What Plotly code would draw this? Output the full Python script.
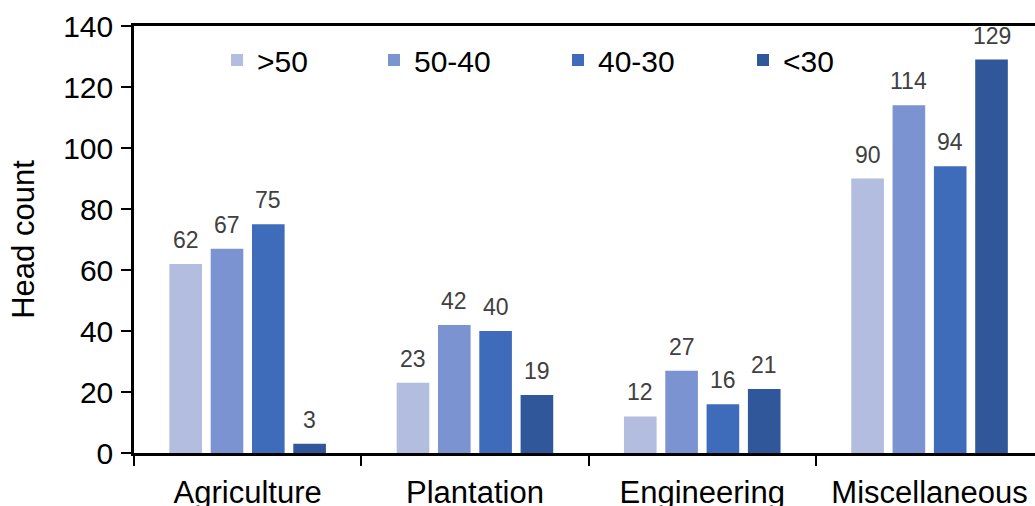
import plotly.graph_objects as go

# Head count by sector and age band
categories = ["Agriculture", "Plantation", "Engineering", "Miscellaneous"]
age_bands = [">50", "50-40", "40-30", "<30"]
over_50 = [62, 23, 12, 90]
age_50_40 = [67, 42, 27, 114]
age_40_30 = [75, 40, 16, 94]
under_30 = [3, 19, 21, 129]
series = [over_50, age_50_40, age_40_30, under_30]
colors = ["#B3BDDF", "#7C93D1", "#3F6BBB", "#30579A"]

FONT = "Liberation Sans, Arial, sans-serif"
BARGAP = 0.273
GROUPGAP = 0.21

# legend item positions (container pixels, left edge of each item)
legend_x = [217, 374, 558, 743]

fig = go.Figure()
for j, (name, vals, col) in enumerate(zip(age_bands, series, colors)):
    lg = "legend" if j == 0 else f"legend{j + 1}"
    fig.add_trace(go.Bar(
        x=categories, y=vals, name=name,
        marker=dict(color=col, line=dict(width=0)),
        legend=lg,
    ))

# value labels above each bar
n = len(series)
slot = (1 - BARGAP) / n
annotations = []
for j, vals in enumerate(series):
    off = -(1 - BARGAP) / 2 + slot * (j + 0.5)
    for i, v in enumerate(vals):
        annotations.append(dict(
            x=i + off, y=v, xref="x", yref="y", text=str(v),
            showarrow=False, yanchor="bottom", xanchor="center", yshift=9,
            font=dict(family=FONT, size=23, color="#404040"),
        ))

legend_common = dict(
    orientation="h", xref="container", yref="container",
    xanchor="left", yanchor="middle", y=1 - 60 / 506,
    font=dict(family=FONT, size=30, color="black"),
    bgcolor="rgba(0,0,0,0)", borderwidth=0,
)
layout_legends = {}
for j, lx in enumerate(legend_x):
    key = "legend" if j == 0 else f"legend{j + 1}"
    layout_legends[key] = dict(legend_common, x=lx / 1035)

fig.update_layout(
    width=1035, height=506,
    margin=dict(l=134, r=0, t=26, b=53, autoexpand=False),
    paper_bgcolor="white", plot_bgcolor="white",
    barmode="group", bargap=BARGAP, bargroupgap=GROUPGAP,
    font=dict(family=FONT, color="black"),
    annotations=annotations,
    showlegend=True,
    **layout_legends,
)

fig.update_xaxes(
    type="category", range=[-0.5, -0.5 + 901 / 227.3],
    showline=True, linecolor="black", linewidth=2.5, mirror=True,
    ticks="outside", tickson="boundaries", ticklen=10, tickwidth=2, tickcolor="black",
    tickfont=dict(family=FONT, size=31, color="black"), ticklabelstandoff=10,
    showgrid=False, automargin=False,
)
fig.update_yaxes(
    range=[0, 140], dtick=20, tick0=0,
    showline=True, linecolor="black", linewidth=2.5, mirror=True,
    ticks="outside", ticklen=10, tickwidth=2, tickcolor="black",
    tickfont=dict(family=FONT, size=30, color="black"), ticklabelstandoff=2,
    showgrid=False, zeroline=False, automargin=False,
    title=dict(text="Head count", font=dict(family=FONT, size=31, color="black"), standoff=20),
)

fig.write_html("out.html")
